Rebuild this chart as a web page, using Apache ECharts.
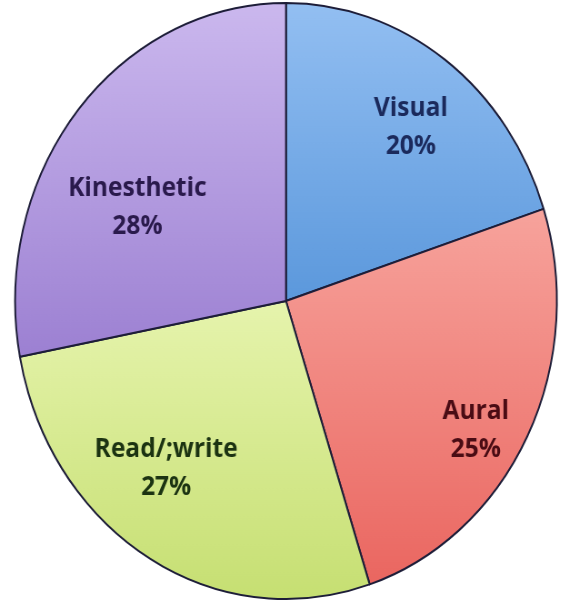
<!DOCTYPE html>
<html>
<head>
<meta charset="utf-8">
<script src="https://cdn.jsdelivr.net/npm/echarts@6/dist/echarts.min.js"></script>
<style>
html,body{margin:0;padding:0;background:#fff;overflow:hidden;}
#wrap{width:561px;height:604px;overflow:hidden;position:relative;}
#chart{width:617px;height:604px;transform:scaleX(0.909);transform-origin:0 0;}
</style>
</head>
<body>
<div id="wrap"><div id="chart"></div></div>
<script>
const categories = ['Visual', 'Aural', 'Read/;write', 'Kinesthetic'];
const values = [20, 25, 27, 28];
const topColors = ['#93bff2', '#f7a39c', '#e6f4ad', '#cbb8ee'];
const bottomColors = ['#5b98dc', '#ea6660', '#c6df72', '#9c80d2'];
const textColors = ['#1b2a5c', '#4a0c14', '#1c3312', '#2a1a4c'];
// label nudges (style only)
const labelNudges = [[-1, 17], [-1, 22], [-12, -35], [18, 56]];

const chart = echarts.init(document.getElementById('chart'));
const R = 298;
const cx = 314.6, cy = 301;

const pieData = categories.map((name, i) => ({
  name: name,
  value: values[i],
  itemStyle: {
    color: new echarts.graphic.LinearGradient(0, 0, 0, 1, [
      { offset: 0, color: topColors[i] },
      { offset: 1, color: bottomColors[i] }
    ])
  }
}));

const labelData = categories.map((name, i) => ({
  name: name,
  value: values[i],
  label: { color: textColors[i], offset: labelNudges[i] }
}));

chart.setOption({
  animation: false,
  series: [
    {
      type: 'pie',
      center: [cx, cy],
      radius: [0, R],
      startAngle: 90,
      clockwise: true,
      label: { show: false },
      labelLine: { show: false },
      itemStyle: { borderColor: '#1d1d38', borderWidth: 2 },
      emphasis: { disabled: true },
      data: pieData
    },
    {
      type: 'pie',
      center: [cx, cy],
      radius: [R * 0.56, R],
      startAngle: 90,
      clockwise: true,
      silent: true,
      itemStyle: { color: 'rgba(0,0,0,0)', borderWidth: 0 },
      label: {
        show: true,
        position: 'inside',
        formatter: p => p.name + '\n' + p.value + '%',
        fontFamily: 'Open Sans',
        fontWeight: 'bold',
        fontSize: 27,
        lineHeight: 38,
        align: 'center'
      },
      labelLine: { show: false },
      emphasis: { disabled: true },
      data: labelData
    }
  ]
});
</script>
</body>
</html>
